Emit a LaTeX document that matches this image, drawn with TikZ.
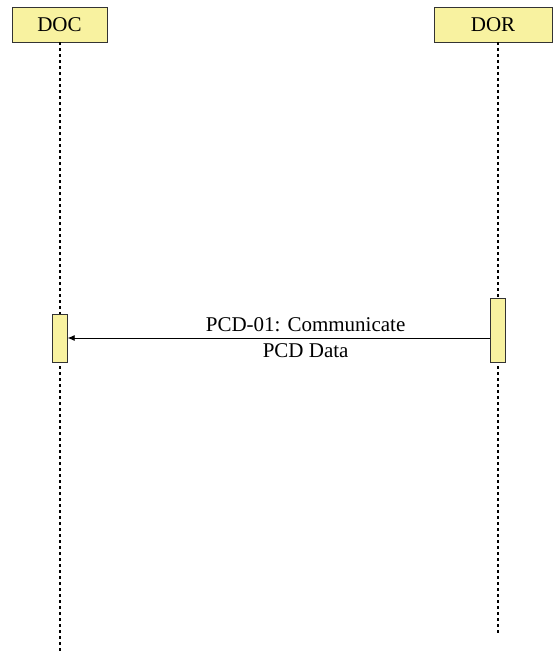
\documentclass[tikz,border=0pt]{standalone}
\usepackage{fontspec}
\setmainfont{Liberation Serif}
\usetikzlibrary{arrows.meta}
\definecolor{lifeyellow}{RGB}{248,242,160}
\begin{document}
\begin{tikzpicture}[x=1pt,y=-1pt,
    actor/.style={draw=black!80, fill=lifeyellow, minimum height=35pt, inner sep=0pt, font=\rmfamily\fontsize{21}{26}\selectfont},
    activation/.style={draw=black!80, fill=lifeyellow, minimum width=15pt, inner sep=0pt},
    lifeline/.style={line width=2.6pt, dash pattern=on 2.6pt off 3.4pt},
    msg/.style={-{Latex[length=7pt,width=6pt]}, line width=0.8pt}]
  \useasboundingbox (0,0) rectangle (553,652);
  \node[actor, minimum width=95pt] (DOC) at (59.5,24.5) {DOC};
  \node[actor, minimum width=118pt] (DOR) at (493,24.5) {DOR};
  \coordinate (DORtop) at (498,42);
  \coordinate (DOCend) at (60,652);
  \coordinate (DORend) at (498,634);
  \draw[lifeline] (DOC.south -| DOCend) -- (DOCend);
  \draw[lifeline] (DORtop) -- (DORend);
  \node[activation, minimum height=48pt] (DOCact) at (60,338) {};
  \node[activation, minimum height=64pt] (DORact) at (498,330) {};
  \draw[msg] (DORact.west |- DOCact.east) -- node[pos=.437, align=center, font=\rmfamily\fontsize{21}{26}\selectfont] (msglabel) {PCD-01: Communicate\\PCD Data} (DOCact.east);
\end{tikzpicture}
\end{document}
